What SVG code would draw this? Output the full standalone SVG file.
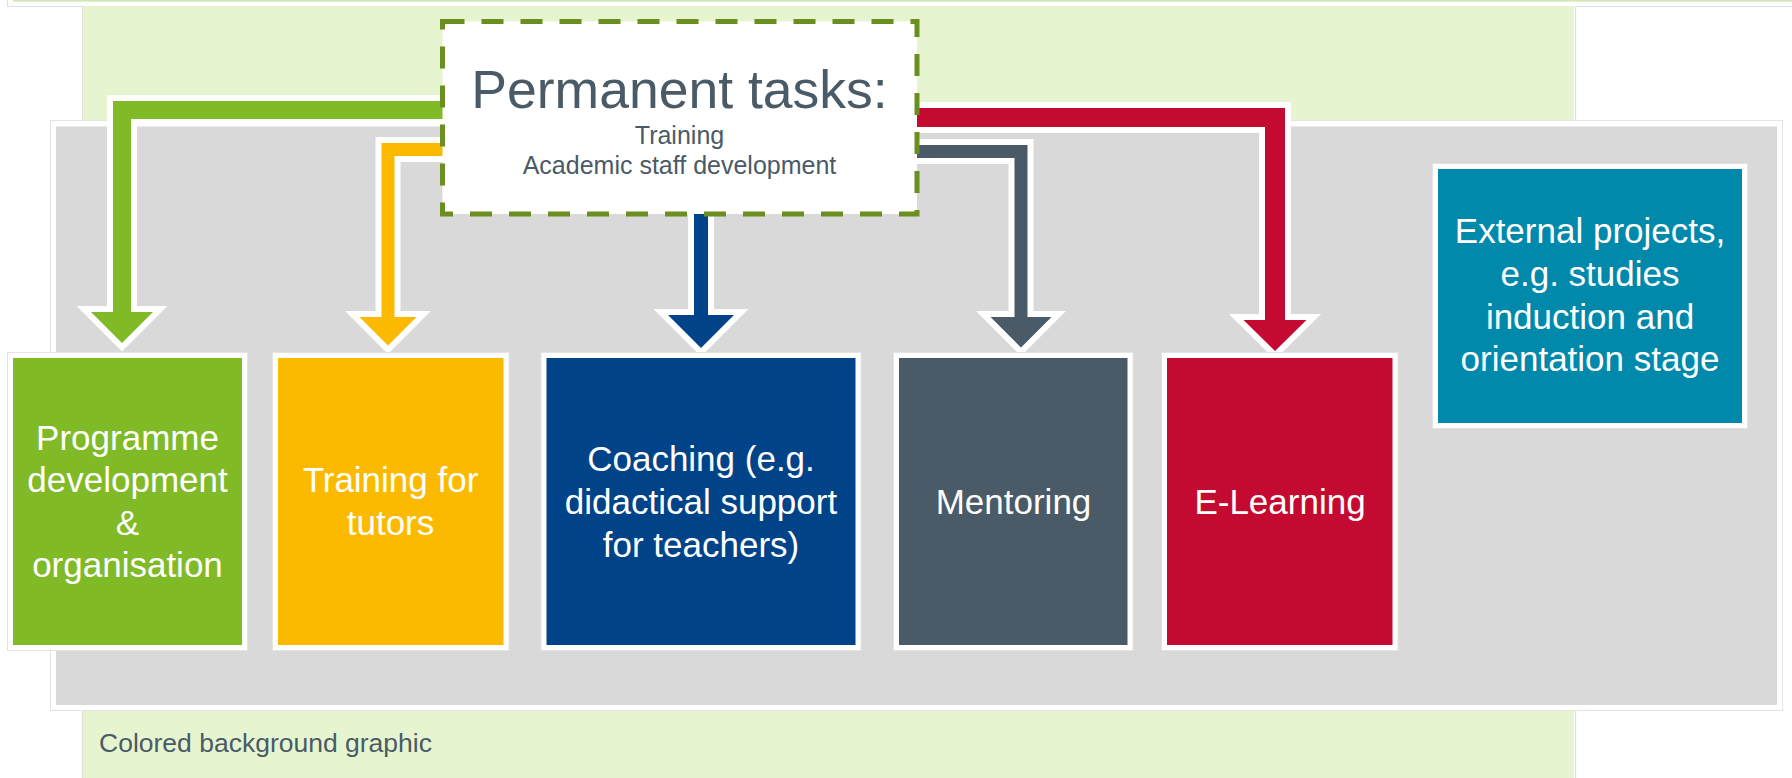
<svg xmlns="http://www.w3.org/2000/svg" width="1792" height="778" viewBox="0 0 1792 778">
<style>
.t{font-family:"Liberation Sans",Arial,Helvetica,sans-serif}
.nt{fill:#ffffff;font-size:35px;text-anchor:middle}
.dk{fill:#4A5A66}
.arrow{stroke:#ffffff;stroke-width:12;stroke-linejoin:miter;stroke-miterlimit:10;paint-order:stroke}
.bord{fill:#ffffff;stroke:#e3e3e3;stroke-width:1}
.faint{fill:none;stroke:#e0e0e0;stroke-width:1.2}
</style>
<g id="background">
<rect x="0" y="0" width="1792" height="778" fill="#ffffff"/>
<rect x="13" y="0" width="1779" height="1.6" fill="#cfe8b2"/>
<path class="faint" d="M7.5,0 V6.5 H82.5 V120.5 H50"/>
<path class="faint" d="M1575.5,120.5 V6.5 H1792 M1575.5,120.5 H1782"/>
<rect x="83" y="6" width="1491" height="772" fill="#E6F5D0"/>
<path class="faint" d="M1575.5,710 V778 M82.5,710 V778"/>
<rect class="bord" x="50.5" y="120.5" width="1732" height="590"/>
<rect x="56" y="126.5" width="1721" height="578.5" fill="#D9D9D9"/>
</g>
<g id="connectors">
<path class="arrow" fill="#80BA27" d="M470,101 H113 V312 H91 L122,343 L153,312 H131 V119 H470 Z"/>
<path class="arrow" fill="#FBBA00" d="M470,143 H381.5 V317 H359.5 L388,345.5 L416.5,317 H394.5 V156 H470 Z"/>
<path class="arrow" fill="#004388" d="M694,190 V315 H668 L701,348 L734,315 H708 V190 Z"/>
<path class="arrow" fill="#4A5A66" d="M890,145 H1027.5 V317 H1051.5 L1021,347.5 L990.5,317 H1014.5 V158 H890 Z"/>
<path class="arrow" fill="#C40A31" d="M890,108 H1285 V320 H1306.5 L1275,351 L1243.5,320 H1265 V127 H890 Z"/>
</g>
<g id="permanent-tasks">
<rect x="442.5" y="21.5" width="474.5" height="192.5" fill="#ffffff" stroke="#6A8E1F" stroke-width="5" stroke-dasharray="22 17"/>
<text class="t dk" x="679.5" y="107.5" font-size="53.5" text-anchor="middle">Permanent tasks:</text>
<text class="t dk" x="679.5" y="144" font-size="25" text-anchor="middle">Training</text>
<text class="t dk" x="679.5" y="174" font-size="25" text-anchor="middle">Academic staff development</text>
</g>
<g id="node-programme">
<rect class="bord" x="7.5" y="352.5" width="240" height="298"/>
<rect x="13" y="358" width="229" height="287" fill="#80BA27"/>
<text class="t nt" x="127.5"><tspan x="127.5" y="449.5">Programme</tspan><tspan x="127.5" y="492">development</tspan><tspan x="127.5" y="534.5">&amp;</tspan><tspan x="127.5" y="577">organisation</tspan></text>
</g>
<g id="node-tutors">
<rect class="bord" x="272.5" y="352.5" width="236.5" height="298"/>
<rect x="278" y="358" width="225.5" height="287" fill="#FBBA00"/>
<text class="t nt" x="390.5"><tspan x="390.5" y="492">Training for</tspan><tspan x="390.5" y="534.5">tutors</tspan></text>
</g>
<g id="node-coaching">
<rect class="bord" x="541" y="352.5" width="320" height="298"/>
<rect x="546.5" y="358" width="309" height="287" fill="#004388"/>
<text class="t nt" x="701"><tspan x="701" y="471">Coaching (e.g.</tspan><tspan x="701" y="514">didactical support</tspan><tspan x="701" y="556.5">for teachers)</tspan></text>
</g>
<g id="node-mentoring">
<rect class="bord" x="893.5" y="352.5" width="239.5" height="298"/>
<rect x="899" y="358" width="228.5" height="287" fill="#4A5A66"/>
<text class="t nt" x="1013.5" y="514">Mentoring</text>
</g>
<g id="node-elearning">
<rect class="bord" x="1161.5" y="352.5" width="236.5" height="298"/>
<rect x="1167" y="358" width="225.5" height="287" fill="#C40A31"/>
<text class="t nt" x="1280" y="514">E-Learning</text>
</g>
<g id="node-external">
<rect class="bord" x="1432.5" y="163.5" width="315" height="265"/>
<rect x="1438" y="169" width="304" height="254" fill="#0089AB"/>
<text class="t nt" x="1590"><tspan x="1590" y="243">External projects,</tspan><tspan x="1590" y="286">e.g. studies</tspan><tspan x="1590" y="328.5">induction and</tspan><tspan x="1590" y="371">orientation stage</tspan></text>
</g>
<g id="caption">
<text class="t dk" x="99" y="752" font-size="26.5">Colored background graphic</text>
</g>
</svg>
